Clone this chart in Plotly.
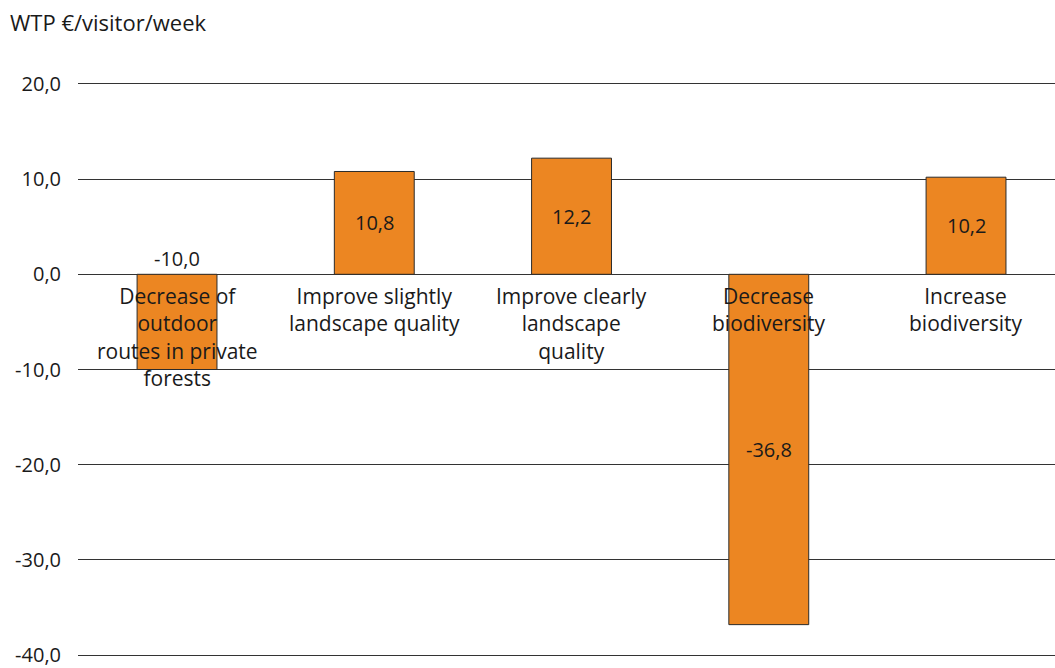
import plotly.graph_objects as go

categories = [
    "Decrease of<br>outdoor<br>routes in private<br>forests",
    "Improve slightly<br>landscape quality",
    "Improve clearly<br>landscape<br>quality",
    "Decrease<br>biodiversity",
    "Increase<br>biodiversity",
]
values = [-10.0, 10.8, 12.2, -36.8, 10.2]
y_ticks = [20, 10, 0, -10, -20, -30, -40]
y_title = "WTP €/visitor/week"

FONT = "Open Sans"
TEXT = "#1a1a1a"
BAR_COLOR = "#EC8622"
idx = list(range(len(categories)))


def fmt(v):
    return f"{v:.1f}".replace(".", ",")


fig = go.Figure()
fig.add_trace(go.Bar(
    x=idx, y=values, width=0.405,
    marker=dict(color=BAR_COLOR, line=dict(color="#2b2b2b", width=1)),
    hoverinfo="skip",
))

annotations = []
for i, (cat, v) in enumerate(zip(categories, values)):
    # category label hanging from the zero line
    annotations.append(dict(
        x=i, y=0, xref="x", yref="y", text=cat, showarrow=False,
        yanchor="top", yshift=-6, align="center",
        font=dict(family=FONT, size=21, color=TEXT),
    ))
    # value label: centred in the bar, or above the baseline for short negatives
    if -20 < v < 0:
        annotations.append(dict(
            x=i, y=0, xref="x", yref="y", text=fmt(v), showarrow=False,
            yanchor="bottom", yshift=0,
            font=dict(family=FONT, size=20, color=TEXT),
        ))
    else:
        annotations.append(dict(
            x=i, y=v / 2, xref="x", yref="y", text=fmt(v), showarrow=False,
            yanchor="middle",
            font=dict(family=FONT, size=20, color=TEXT),
        ))

annotations.append(dict(
    x=0, y=1, xref="paper", yref="paper", xanchor="left", yanchor="top",
    text=y_title, showarrow=False, xshift=-70, yshift=77,
    font=dict(family=FONT, size=22, color=TEXT),
))

fig.update_layout(
    width=1055, height=668,
    margin=dict(l=78, r=0, t=82, b=7),
    paper_bgcolor="white", plot_bgcolor="white",
    showlegend=False,
    annotations=annotations,
    xaxis=dict(
        range=[-0.502, 4.451], showticklabels=False, showgrid=False,
        zeroline=False, showline=False, ticks="",
    ),
    yaxis=dict(
        range=[-40.2, 20.2], tickvals=y_ticks, ticktext=[fmt(t) for t in y_ticks],
        showgrid=True, gridcolor="#333333", gridwidth=1,
        zeroline=True, zerolinecolor="#333333", zerolinewidth=1,
        showline=False, ticks="", ticklabelstandoff=16,
        ticklabeloverflow="allow",
        tickfont=dict(family=FONT, size=20, color=TEXT),
    ),
)

fig.write_html("out.html")
